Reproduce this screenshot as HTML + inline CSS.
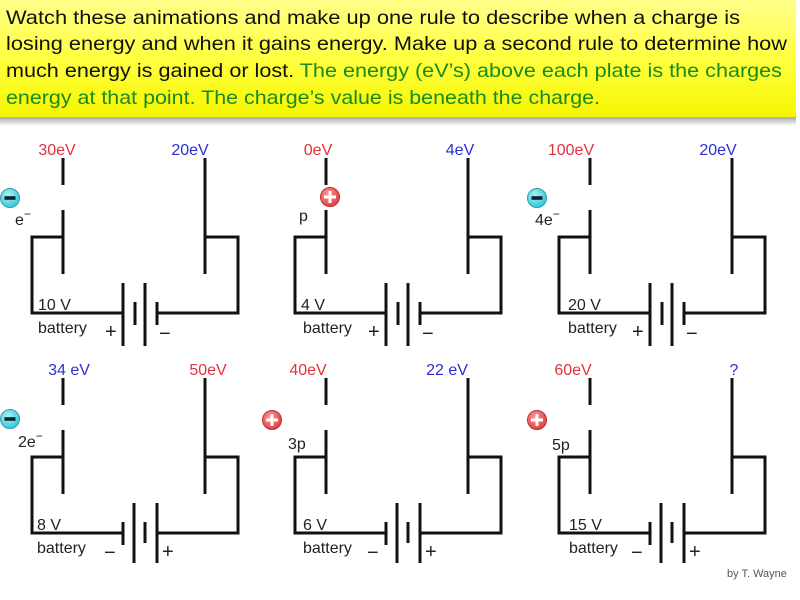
<!DOCTYPE html>
<html><head><meta charset="utf-8"><style>
body{margin:0;background:#fff;width:800px;height:600px;overflow:hidden}
svg{display:block}
.t{font-family:"Liberation Sans",Arial,sans-serif;font-size:16px}
.r{fill:#e0333c}.b{fill:#2c2fd0}.k{fill:#222}
.pm{font-size:20px}
</style></head><body>
<svg width="800" height="600" viewBox="0 0 800 600" xmlns="http://www.w3.org/2000/svg">
<defs>
<linearGradient id="yg" x1="0" y1="0" x2="0" y2="1">
<stop offset="0" stop-color="#ffff8a"/><stop offset="0.5" stop-color="#ffff40"/><stop offset="1" stop-color="#f6f600"/>
</linearGradient>
<linearGradient id="sh" x1="0" y1="0" x2="0" y2="1">
<stop offset="0" stop-color="#777"/><stop offset="1" stop-color="#fff"/>
</linearGradient>
<radialGradient id="cy" cx="0.4" cy="0.35" r="0.7"><stop offset="0" stop-color="#a8f4f8"/><stop offset="1" stop-color="#2cc6d2"/></radialGradient>
<radialGradient id="rd" cx="0.4" cy="0.35" r="0.7"><stop offset="0" stop-color="#ff9a9a"/><stop offset="1" stop-color="#dd3a3a"/></radialGradient>
<g id="neg"><circle r="9.5" fill="url(#cy)" stroke="#3a9aa8" stroke-width="1"/><rect x="-5.5" y="-1.8" width="11" height="3.6" fill="#123"/></g>
<g id="pos"><circle r="9.5" fill="url(#rd)" stroke="#b33" stroke-width="1"/><rect x="-6" y="-1.5" width="12" height="3" fill="#fff"/><rect x="-1.5" y="-6" width="3" height="12" fill="#fff"/></g>
<g id="circ" fill="none" stroke="#111" stroke-width="3">
<path d="M63 158V185M63 210V274M205 158V274M63 237H32V313H123M205 237H238V313H157"/>
</g>
<g id="batA" stroke="#111" stroke-width="3">
<path d="M123 283V346M135 302V325M145 283V346M157 302V325"/>
</g>
<g id="batB" stroke="#111" stroke-width="3">
<path d="M123 302V325M134 283V343M145 302V323M157 283V343"/>
</g>
</defs>
<rect x="0" y="116" width="796" height="10" fill="url(#sh)" opacity="0.7"/>
<rect x="0" y="0" width="796" height="117" fill="url(#yg)"/>
<g font-family="'Liberation Sans',Arial,sans-serif" font-size="19.5">
<text x="6" y="24" textLength="734" lengthAdjust="spacingAndGlyphs" fill="#111">Watch these animations and make up one rule to describe when a charge is</text>
<text x="6" y="50" textLength="781" lengthAdjust="spacingAndGlyphs" fill="#111">losing energy and when it gains energy. Make up a second rule to determine how</text>
<text x="6" y="77" textLength="776" lengthAdjust="spacingAndGlyphs"><tspan fill="#111">much energy is gained or lost. </tspan><tspan fill="#1a8a1a"> The energy (eV’s) above each plate is the charges</tspan></text>
<text x="6" y="104" textLength="594" lengthAdjust="spacingAndGlyphs" fill="#1a8a1a">energy at that point. The charge’s value is beneath the charge.</text>
</g>

<use href="#circ"/><use href="#batA"/>
<use href="#circ" x="263"/><use href="#batA" x="263"/>
<use href="#circ" x="527"/><use href="#batA" x="527"/>
<use href="#circ" y="220"/><use href="#batB" y="220"/>
<use href="#circ" x="263" y="220"/><use href="#batB" x="263" y="220"/>
<use href="#circ" x="527" y="220"/><use href="#batB" x="527" y="220"/>

<g class="t">
<text x="57" y="155" text-anchor="middle" class="r">30eV</text>
<text x="190" y="155" text-anchor="middle" class="b">20eV</text>
<text x="318" y="155" text-anchor="middle" class="r">0eV</text>
<text x="460" y="155" text-anchor="middle" class="b">4eV</text>
<text x="571" y="155" text-anchor="middle" class="r">100eV</text>
<text x="718" y="155" text-anchor="middle" class="b">20eV</text>
<text x="69" y="375" text-anchor="middle" class="b">34 eV</text>
<text x="208" y="375" text-anchor="middle" class="r">50eV</text>
<text x="308" y="375" text-anchor="middle" class="r">40eV</text>
<text x="447" y="375" text-anchor="middle" class="b">22 eV</text>
<text x="573" y="375" text-anchor="middle" class="r">60eV</text>
<text x="734" y="375" text-anchor="middle" class="b">?</text>

<text x="15" y="225" class="k">e<tspan dy="-7" font-size="12">−</tspan></text>
<text x="299" y="221" class="k">p</text>
<text x="535" y="225" class="k">4e<tspan dy="-7" font-size="12">−</tspan></text>
<text x="18" y="447" class="k">2e<tspan dy="-7" font-size="12">−</tspan></text>
<text x="288" y="449" class="k">3p</text>
<text x="552" y="450" class="k">5p</text>

<g class="k">
<text x="38" y="310">10 V</text><text x="38" y="333">battery</text><text class="pm" x="105" y="338">+</text><text class="pm" x="159" y="340">−</text>
<text x="301" y="310">4 V</text><text x="303" y="333">battery</text><text class="pm" x="368" y="338">+</text><text class="pm" x="422" y="340">−</text>
<text x="568" y="310">20 V</text><text x="568" y="333">battery</text><text class="pm" x="632" y="338">+</text><text class="pm" x="686" y="340">−</text>
<text x="37" y="530">8 V</text><text x="37" y="553">battery</text><text class="pm" x="104" y="559">−</text><text class="pm" x="162" y="558">+</text>
<text x="303" y="530">6 V</text><text x="303" y="553">battery</text><text class="pm" x="367" y="559">−</text><text class="pm" x="425" y="558">+</text>
<text x="569" y="530">15 V</text><text x="569" y="553">battery</text><text class="pm" x="631" y="559">−</text><text class="pm" x="689" y="558">+</text>
</g>
<text x="727" y="577" font-size="11" fill="#555">by T. Wayne</text>
</g>

<use href="#neg" x="10" y="198"/>
<use href="#pos" x="330" y="197"/>
<use href="#neg" x="537" y="198"/>
<use href="#neg" x="10" y="419"/>
<use href="#pos" x="272" y="420"/>
<use href="#pos" x="537" y="420"/>
</svg>
</body></html>
